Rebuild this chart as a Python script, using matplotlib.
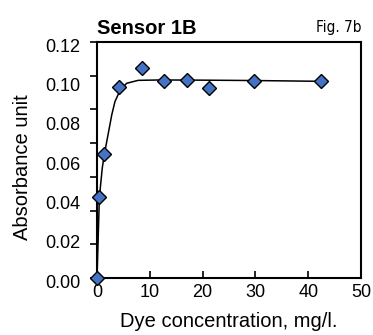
import matplotlib.pyplot as plt
import matplotlib.transforms as mtransforms
import numpy as np

plt.rcParams['font.family'] = ['Liberation Sans', 'DejaVu Sans']

# measured points (dye concentration, absorbance)
conc = [0, 0.42, 1.27, 4.2, 8.5, 12.7, 17.0, 21.2, 29.8, 42.5]
absorb = [0.000, 0.041, 0.063, 0.097, 0.107, 0.100, 0.1005, 0.0965, 0.100, 0.100]

# fitted curve
fit_x = [0, 0.45, 1.0, 1.4, 2.1, 2.8, 3.4, 4.3, 5.6, 7.8, 12, 20, 30, 42.5]
fit_y = [0, 0.041, 0.056, 0.063, 0.073, 0.083, 0.0897, 0.095, 0.099, 0.1005,
         0.1007, 0.1006, 0.1004, 0.1000]

x_ticks = [0, 10, 20, 30, 40, 50]
y_labels = [0.00, 0.02, 0.04, 0.06, 0.08, 0.10, 0.12]

fig = plt.figure(figsize=(3.73, 3.35), dpi=100)
ax = fig.add_axes([97/373, 1 - 278/335, (361 - 97)/373, (278 - 42)/335])

ax.plot(fit_x, fit_y, color='black', lw=1.1, zorder=2)
ax.plot(conc, absorb, ls='none', marker='D', ms=6.8, mfc='#4472C4',
        mec='black', mew=1.0, clip_on=False, zorder=3)

ax.set_xlim(0, 50)
ax.set_ylim(0, 0.12)

for s in ax.spines.values():
    s.set_linewidth(1.5)

ax.set_xticks(x_ticks)
ax.tick_params(axis='x', direction='in', length=5, width=1.2, labelsize=13, pad=4)

# tick marks and labels don't line up in the original: 8 marks, 7 labels
ax.yaxis.remove_overlapping_locs = False
ax.set_yticks(np.linspace(0, 0.12, 8))
ax.set_yticklabels([])
ax.tick_params(axis='y', which='major', direction='out', length=5, width=1.2)
ax.set_yticks(y_labels, minor=True)
ax.set_yticklabels(['%.2f' % v for v in y_labels], minor=True)
ax.tick_params(axis='y', which='minor', length=0, labelsize=13, pad=12)
shift = mtransforms.ScaledTranslation(0, -3/100, fig.dpi_scale_trans)
for lab in ax.get_yticklabels(minor=True):
    lab.set_transform(lab.get_transform() + shift)

ax.set_xlabel('Dye concentration, mg/l.', fontsize=14.5, labelpad=8)
ax.set_ylabel('Absorbance unit', fontsize=14.5)
ax.yaxis.set_label_coords(-0.247, 0.47)

ax.set_title('Sensor 1B', loc='left', fontsize=14.5, fontweight='bold', pad=6)
fig.text(361/373, 1 - 32/335, 'Fig. 7b', ha='right', va='baseline', fontsize=11,
         family='DejaVu Sans', stretch='condensed')

fig.savefig('out.png', dpi=100)
